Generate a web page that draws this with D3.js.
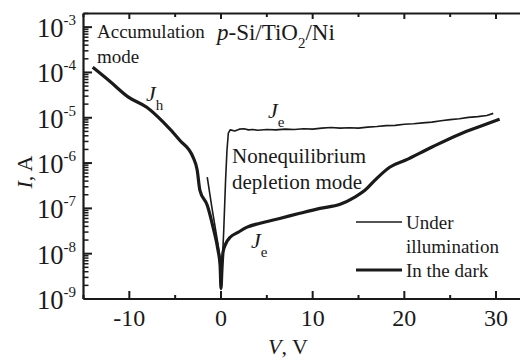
<!DOCTYPE html>
<html>
<head>
<meta charset="utf-8">
<script src="https://cdn.jsdelivr.net/npm/d3@7"></script>
<style>
  body { margin: 0; background: #fff; }
</style>
</head>
<body>
<figure id="graph" style="margin:0"></figure>
<script>
// dark curve, V in volts and I in amps
const darkV = [-14, -12.1, -10.1, -8.1, -6.3, -4.5, -3.05, -2.6, -2.3, -1.5, -0.87, -0.33, -0.1, 0,
  0.1, 0.22, 0.55, 1.0, 1.85, 2.85, 4.25, 6.4, 8.6, 10.8, 13, 14.6, 15.7, 16.8, 18.4, 20.1, 22.8, 26.1, 28.3, 30.4];
const darkI = [1.3e-4, 6.3e-5, 2.85e-5, 1.7e-5, 8.0e-6, 3.2e-6, 1.35e-6, 7.0e-7, 2.5e-7, 1.17e-7, 3.85e-8, 1.2e-8, 5.6e-9, 1.7e-9,
  4.4e-9, 1.07e-8, 1.7e-8, 2.3e-8, 2.95e-8, 3.85e-8, 4.7e-8, 6.0e-8, 7.8e-8, 1.0e-7, 1.23e-7, 1.78e-7, 2.5e-7, 4.2e-7, 8.1e-7, 1.15e-6, 2.15e-6, 4.4e-6, 6.5e-6, 9.3e-6];

// curve under illumination
const lightV = [-1.5, -1.0, -0.45, -0.1, 0, 0.1, 0.3, 0.5, 0.65, 0.8, 1.0, 1.5, 2, 2.5, 3, 3.5, 4, 5, 6, 7, 8, 9, 10, 11, 12, 13, 14,
  15, 16, 17, 18, 19, 20, 21, 22, 23, 24, 25, 26, 27, 28, 29, 29.7];
const lightI = [4.9e-7, 1.07e-7, 2.3e-8, 8.3e-9, 2.4e-9, 4.4e-9, 3.3e-8, 4.2e-7, 1.9e-6, 4.6e-6, 5.4e-6, 5.1e-6, 5.6e-6, 5.7e-6, 5.4e-6, 5.5e-6, 5.3e-6,
  5.5e-6, 5.4e-6, 5.6e-6, 5.5e-6, 5.7e-6, 5.6e-6, 5.9e-6, 6.1e-6, 5.9e-6, 6.0e-6, 5.9e-6, 6.2e-6, 6.4e-6, 6.7e-6, 6.8e-6, 7.2e-6, 7.4e-6,
  7.7e-6, 8.0e-6, 8.6e-6, 9.1e-6, 9.5e-6, 1.02e-5, 1.06e-5, 1.12e-5, 1.25e-5];

const xTicks = [-10, 0, 10, 20, 30];
const xMinor = [-15, -5, 5, 15, 25];
const yExp = [-9, -8, -7, -6, -5, -4, -3];

const width = 520, height = 360;
const ink = "#1a1a1a";
const serif = "Liberation Serif";
const svg = d3.select("figure#graph").append("svg")
  .attr("width", width).attr("height", height);

const x = d3.scaleLinear().domain([-15, 33]).range([83.5, 523.5]);
const y = d3.scaleLog().domain([1e-9, 2e-3]).range([299, 13.5]);

// small helper so every label gets the serif face
function txt(parent, px, py, size) {
  return parent.append("text").attr("x", px).attr("y", py)
    .attr("font-family", serif).attr("font-size", size).attr("fill", ink);
}

svg.append("clipPath").attr("id", "clip")
  .append("rect").attr("x", 83.5).attr("y", 13.5).attr("width", 440).attr("height", 285.5);

// frame lines
svg.append("line").attr("x1", 83.5).attr("x2", 83.5).attr("y1", 13.5).attr("y2", 299)
  .attr("stroke", ink).attr("stroke-width", 2.2);
svg.append("line").attr("x1", 83.5).attr("x2", width).attr("y1", 299).attr("y2", 299)
  .attr("stroke", ink).attr("stroke-width", 2.2);
svg.append("line").attr("x1", 83.5).attr("x2", width).attr("y1", 13.5).attr("y2", 13.5)
  .attr("stroke", ink).attr("stroke-width", 2.2);

// x ticks bottom and top
const xt = svg.append("g");
xt.selectAll(".maj").data(xTicks).enter().append("line")
  .attr("x1", d => x(d)).attr("x2", d => x(d)).attr("y1", 299).attr("y2", 291)
  .attr("stroke", ink).attr("stroke-width", 2);
xt.selectAll(".min").data(xMinor).enter().append("line")
  .attr("x1", d => x(d)).attr("x2", d => x(d)).attr("y1", 299).attr("y2", 295)
  .attr("stroke", ink).attr("stroke-width", 2);
xt.selectAll(".tmaj").data(xTicks).enter().append("line")
  .attr("x1", d => x(d)).attr("x2", d => x(d)).attr("y1", 13.5).attr("y2", 19)
  .attr("stroke", ink).attr("stroke-width", 2);
xt.selectAll(".tmin").data(xMinor).enter().append("line")
  .attr("x1", d => x(d)).attr("x2", d => x(d)).attr("y1", 13.5).attr("y2", 17)
  .attr("stroke", ink).attr("stroke-width", 2);
xTicks.forEach(d => txt(xt, x(d), 326, 24).attr("text-anchor", "middle").text(d));

// y ticks, log decades with minor ticks 2..9
const minorVals = [];
yExp.slice(0, -1).forEach(e => { for (let k = 2; k <= 9; k++) minorVals.push(k * Math.pow(10, e)); });
minorVals.push(2e-3);
const yt = svg.append("g");
yt.selectAll(".maj").data(yExp).enter().append("line")
  .attr("x1", 83.5).attr("x2", 92).attr("y1", d => y(Math.pow(10, d))).attr("y2", d => y(Math.pow(10, d)))
  .attr("stroke", ink).attr("stroke-width", 2);
yt.selectAll(".min").data(minorVals).enter().append("line")
  .attr("x1", 83.5).attr("x2", 88.5).attr("y1", d => y(d)).attr("y2", d => y(d))
  .attr("stroke", ink).attr("stroke-width", 1.5);
yExp.forEach(e => {
  const t = txt(yt, 76, y(Math.pow(10, e)) + 10, 26.5).attr("text-anchor", "end");
  t.append("tspan").text("10");
  t.append("tspan").attr("dy", -12).attr("font-size", 15).text("-" + Math.abs(e));
});

// curves
const smooth = d3.line().x(d => x(d[0])).y(d => y(d[1])).curve(d3.curveMonotoneX);
const line = d3.line().x(d => x(d[0])).y(d => y(d[1]));
const plot = svg.append("g").attr("clip-path", "url(#clip)");
plot.append("path").datum(darkV.map((v, i) => [v, darkI[i]]))
  .attr("d", smooth).attr("fill", "none").attr("stroke", ink)
  .attr("stroke-width", 3.2).attr("stroke-linejoin", "round");
plot.append("path").datum(lightV.map((v, i) => [v, lightI[i]]))
  .attr("d", line).attr("fill", "none").attr("stroke", ink)
  .attr("stroke-width", 1.6).attr("stroke-linejoin", "round");

// annotations
const ann = svg.append("g");
txt(ann, 97, 38, 19).text("Accumulation");
txt(ann, 97, 63, 19).text("mode");

const title = txt(ann, 217, 40, 23);
title.append("tspan").attr("font-style", "italic").text("p");
title.append("tspan").text("-Si/TiO");
title.append("tspan").attr("dy", 8).attr("font-size", 15).text("2");
title.append("tspan").attr("dy", -8).text("/Ni");

function jLabel(px, py, sub) {
  const t = txt(ann, px, py, 22);
  t.append("tspan").attr("font-style", "italic").text("J");
  t.append("tspan").attr("dy", 9).attr("font-size", 15).text(sub);
}
jLabel(146, 101, "h");
jLabel(268, 118, "e");
jLabel(251, 248, "e");

txt(ann, 232, 163, 21).text("Nonequilibrium");
txt(ann, 232, 189, 21).text("depletion mode");

// legend
svg.append("line").attr("x1", 356).attr("x2", 402).attr("y1", 222).attr("y2", 222)
  .attr("stroke", ink).attr("stroke-width", 1.6);
svg.append("line").attr("x1", 356).attr("x2", 402).attr("y1", 270).attr("y2", 270)
  .attr("stroke", ink).attr("stroke-width", 3.2);
txt(ann, 406, 229, 19).text("Under");
txt(ann, 406, 253, 19).text("illumination");
txt(ann, 406, 277, 19).text("In the dark");

// axis titles
const xTitle = txt(svg, 288, 354, 22).attr("text-anchor", "middle");
xTitle.append("tspan").attr("font-style", "italic").text("V");
xTitle.append("tspan").text(", V");
const yTitle = txt(svg, 0, 0, 22).attr("transform", "translate(32,172) rotate(-90)")
  .attr("text-anchor", "middle");
yTitle.append("tspan").attr("font-style", "italic").text("I");
yTitle.append("tspan").text(", A");
</script>
</body>
</html>
